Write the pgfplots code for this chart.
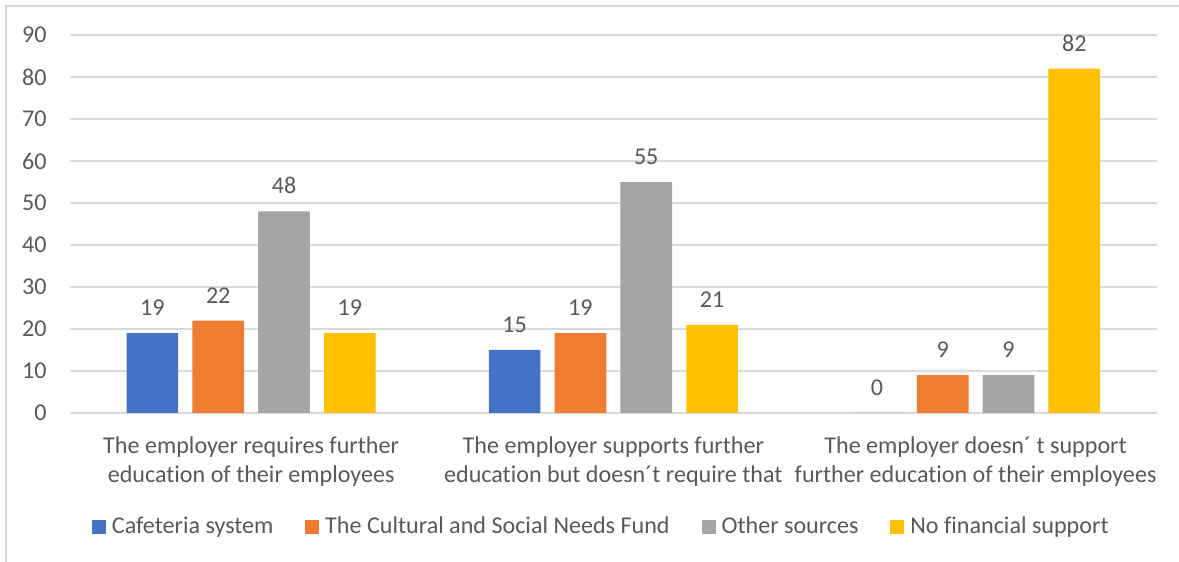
\documentclass[border=0pt]{standalone}
\usepackage{fontspec}
\setmainfont{Carlito}[Ligatures=NoCommon]
\usepackage{pgfplots}
\pgfplotsset{compat=1.18}
\definecolor{cBlue}{HTML}{4472C4}
\definecolor{cOrange}{HTML}{ED7D31}
\definecolor{cGray}{HTML}{A5A5A5}
\definecolor{cGold}{HTML}{FFC000}
\definecolor{txt}{HTML}{595959}
\definecolor{gridc}{HTML}{D9D9D9}
\newcommand\cf{\fontsize{12.05}{14.35}\selectfont}
\begin{document}
\begin{tikzpicture}[x=1pt,y=1pt]
\useasboundingbox (0,0) rectangle (589.5,281);
\draw[gridc, line width=0.6pt] (3,0) -- (3,278) -- (589.5,278);
\begin{axis}[
  at={(35pt,74.5pt)}, anchor=south west,
  scale only axis, width=543.35pt, height=189pt,
  xmin=-0.5, xmax=2.5, ymin=0, ymax=90,
  ytick={0,10,...,90}, xtick={0,1,2},
  xticklabels={{The employer requires further\\education of their employees},
               {The employer supports further\\education but doesn´t require that},
               {The employer doesn´ t support\\further education of their employees}},
  axis line style={draw=none},
  major tick length=0pt,
  ymajorgrids, grid style={draw=gridc, line width=0.6pt},
  /pgf/number format/assume math mode=true,
  tick label style={font=\cf, text=txt},
  yticklabel style={anchor=east, inner sep=0pt, xshift=-11.5pt},
  xticklabel style={align=center, anchor=north, inner sep=0pt, yshift=-11.8pt},
  ybar, bar width=0.1425,
  nodes near coords,
  nodes near coords style={font=\cf, text=txt, anchor=south, inner sep=0pt, yshift=8.5pt},
  legend columns=4,
  legend style={at={(0.488,-0.3016)}, anchor=center, draw=none, fill=none,
    inner sep=0pt, font=\cf, text=txt,
    nodes={inner sep=0pt, text=txt},
    /tikz/every odd column/.append style={column sep=3pt},
    /tikz/every even column/.append style={column sep=15.9pt}},
  mybar/.style={draw=none, fill=#1,
    legend image code/.code={\fill[fill=#1] (0pt,-3.5pt) rectangle (7pt,3.5pt);}},
]
\addplot[mybar=cBlue, bar shift=-0.2725] coordinates {(0,19) (1,15) (2,0)};
\addplot[mybar=cOrange, bar shift=-0.0908] coordinates {(0,22) (1,19) (2,9)};
\addplot[mybar=cGray, bar shift=0.0908] coordinates {(0,48) (1,55) (2,9)};
\addplot[mybar=cGold, bar shift=0.2725] coordinates {(0,19) (1,21) (2,82)};
\legend{Cafeteria system, The Cultural and Social Needs Fund, Other sources, No financial support}
\end{axis}
\end{tikzpicture}
\end{document}
